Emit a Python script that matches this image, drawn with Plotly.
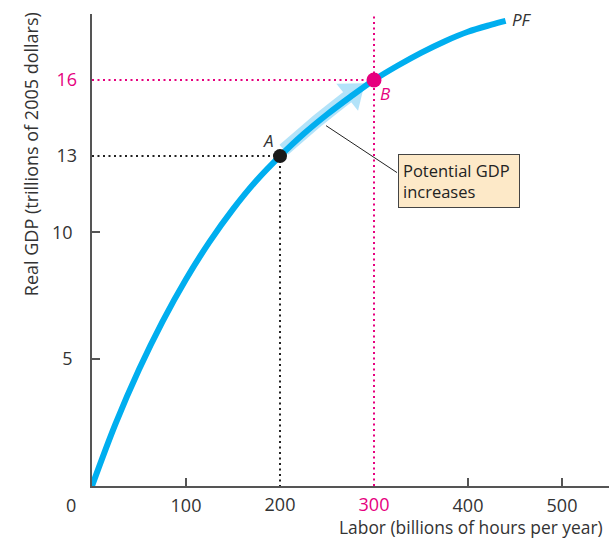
import plotly.graph_objects as go

# Production function PF (labor in billions of hours, real GDP in trillions of 2005 dollars)
labor = [0, 25, 50, 75, 100, 125, 150, 175, 200, 225, 250, 275, 300,
         325, 350, 375, 400, 425, 440]
real_gdp = [0, 2.45, 4.59, 6.48, 8.15, 9.62, 10.91, 12.04, 13.0, 13.87, 14.64, 15.34, 16.0,
            16.56, 17.07, 17.52, 17.9, 18.18, 18.33]

# Points A and B
point_names = ["A", "B"]
point_labor = [200, 300]
point_gdp = [13, 16]

# Light-blue "increase" arrow path along the curve (last point = arrow head)
arrow_labor = [204, 220, 240, 258, 272, 277.7]
arrow_gdp = [13.25, 13.8, 14.4, 14.93, 15.33, 15.5]

# Leader line from arrow to callout box
leader_labor = [249, 324.5]
leader_gdp = [14.2, 12.35]
callout_text = "Potential GDP<br>increases"
callout_pos = (325.5, 13.1)

x_ticks_plain = [100, 400, 500]
x_ticks_marked = [200, 300]
y_ticks_plain = [5, 10]
y_ticks_marked = [13, 16]

PINK = "#e6007e"
BLUE = "#00aeef"
LIGHTBLUE = "#b3e3f9"
DARK = "#333333"
AXIS = "#555555"
FONT = "Open Sans"

X_RANGE = [0, 550]
Y_RANGE = [0, 18.6]

fig = go.Figure()

DOT = "2px,3.5px"
# dotted guides
fig.add_trace(go.Scatter(x=[0, point_labor[0], point_labor[0]], y=[point_gdp[0], point_gdp[0], 0],
                         mode="lines", line=dict(color="#222", width=2, dash=DOT),
                         hoverinfo="skip", showlegend=False))
fig.add_trace(go.Scatter(x=[0, point_labor[1]], y=[point_gdp[1], point_gdp[1]],
                         mode="lines", line=dict(color=PINK, width=2, dash=DOT),
                         hoverinfo="skip", showlegend=False))
fig.add_trace(go.Scatter(x=[point_labor[1], point_labor[1]], y=[0, Y_RANGE[1]],
                         mode="lines", line=dict(color=PINK, width=2, dash=DOT),
                         hoverinfo="skip", showlegend=False))

# arrow shaft + head
sizes = [0] * (len(arrow_labor) - 1) + [30]
fig.add_trace(go.Scatter(x=arrow_labor, y=arrow_gdp, mode="lines+markers",
                         line=dict(color=LIGHTBLUE, width=13),
                         marker=dict(symbol="triangle-up", size=sizes, color=LIGHTBLUE,
                                     angleref="previous", line=dict(width=0), opacity=1),
                         hoverinfo="skip", showlegend=False))

# PF curve
fig.add_trace(go.Scatter(x=labor, y=real_gdp, mode="lines",
                         line=dict(color=BLUE, width=6, shape="spline", smoothing=1.0),
                         hoverinfo="skip", showlegend=False))

# leader line
fig.add_trace(go.Scatter(x=leader_labor, y=leader_gdp, mode="lines",
                         line=dict(color="#222", width=1),
                         hoverinfo="skip", showlegend=False))

# points
fig.add_trace(go.Scatter(x=point_labor, y=point_gdp, mode="markers",
                         marker=dict(size=[14, 15], color=["#1a1a1a", PINK], opacity=1,
                                     line=dict(width=0)),
                         hoverinfo="skip", showlegend=False))

# dummy trace on overlay axes
fig.add_trace(go.Scatter(x=[None], y=[None], xaxis="x2", yaxis="y2",
                         showlegend=False, hoverinfo="skip"))

tickfont = dict(family=FONT, size=18, color=DARK)

fig.update_layout(
    width=613, height=538,
    margin=dict(l=92, r=4, t=14, b=52),
    paper_bgcolor="white", plot_bgcolor="white",
    showlegend=False,
    xaxis=dict(range=X_RANGE, showgrid=False, zeroline=False, showline=True,
               linecolor=AXIS, linewidth=1.5, ticks="inside", ticklen=8, tickwidth=1.5,
               tickcolor=AXIS, tickvals=x_ticks_plain, tickangle=0,
               ticktext=[str(v) for v in x_ticks_plain], tickfont=tickfont,
               ticklabelstandoff=3, fixedrange=True),
    xaxis2=dict(range=X_RANGE, overlaying="x", side="bottom", showgrid=False, zeroline=False,
                showline=False, ticks="", tickvals=x_ticks_marked, tickangle=0,
                ticktext=[str(x_ticks_marked[0]),
                          f'<span style="color:{PINK}">{x_ticks_marked[1]}</span>'],
                tickfont=tickfont, ticklabelstandoff=6, fixedrange=True),
    yaxis=dict(range=Y_RANGE, showgrid=False, zeroline=False, showline=True,
               linecolor=AXIS, linewidth=1.5, ticks="inside", ticklen=8, tickwidth=1.5,
               tickcolor=AXIS, tickvals=y_ticks_plain, tickangle=0,
               ticktext=[str(v) for v in y_ticks_plain], tickfont=tickfont,
               ticklabelstandoff=14, fixedrange=True),
    yaxis2=dict(range=Y_RANGE, overlaying="y", side="left", showgrid=False, zeroline=False,
                showline=False, ticks="", tickvals=y_ticks_marked, tickangle=0,
                ticktext=[str(y_ticks_marked[0]),
                          f'<span style="color:{PINK}">{y_ticks_marked[1]}</span>'],
                tickfont=tickfont, ticklabelstandoff=14, fixedrange=True),
)

ann_font = dict(family=FONT, size=17, color=DARK)
# origin label
fig.add_annotation(x=0, y=0, text="0", showarrow=False, xshift=-21, yshift=-19, font=tickfont)
# point labels
fig.add_annotation(x=point_labor[0], y=point_gdp[0], text=f"<i>{point_names[0]}</i>", showarrow=False,
                   xshift=-12, yshift=16, font=ann_font)
fig.add_annotation(x=point_labor[1], y=point_gdp[1], text=f"<i>{point_names[1]}</i>", showarrow=False,
                   xshift=11, yshift=-14, font=dict(family=FONT, size=17, color=PINK))
fig.add_annotation(x=labor[-1], y=real_gdp[-1], text="<i>PF</i>", showarrow=False,
                   xanchor="left", xshift=4, yshift=1, font=ann_font)
# callout
fig.add_annotation(x=callout_pos[0], y=callout_pos[1], text=callout_text, showarrow=False,
                   xanchor="left", yanchor="top", align="left", width=112, height=44,
                   bgcolor="#fde9c8", bordercolor="#444", borderwidth=1, borderpad=4,
                   font=dict(family=FONT, size=16.5, color="#222"))
# axis titles
fig.add_annotation(xref="paper", yref="paper", x=-0.118, y=0.703, xanchor="center", yanchor="middle",
                   text="Real GDP (trillions of 2005 dollars)",
                   textangle=-90, showarrow=False, font=dict(family=FONT, size=18, color=DARK))
fig.add_annotation(xref="paper", yref="paper", x=0.992, y=-0.087, xanchor="right", yanchor="middle",
                   text="Labor (billions of hours per year)", showarrow=False,
                   font=dict(family=FONT, size=17.4, color=DARK))

fig.write_html("out.html", config={"displayModeBar": False},
               post_script="document.body.style.margin='0';")
